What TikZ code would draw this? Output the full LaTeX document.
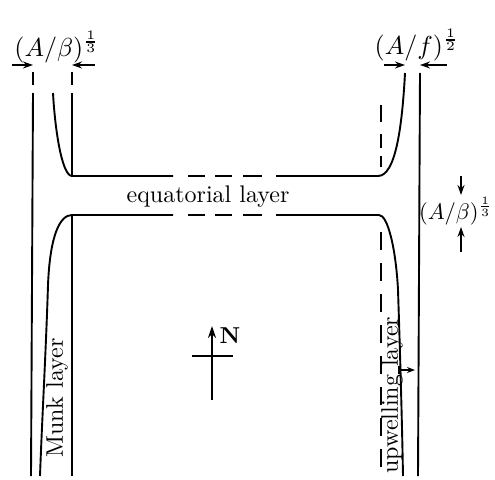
\documentclass[tikz,border=0pt]{standalone}
\usetikzlibrary{arrows.meta}
\newcommand{\bigtxt}[1]{\scalebox{2.4}{#1}}
\newcommand{\bigmath}[1]{\scalebox{2.6}{#1}}
\begin{document}
\begin{tikzpicture}[x=1pt,y=-1pt,
  wall/.style={line width=1.9pt},
  thin dash/.style={line width=1.9pt},
  dim/.style={line width=1.6pt,-{Stealth[length=10pt,width=7pt]}},
  lbl/.style={inner sep=0pt},
]
\useasboundingbox (0,0) rectangle (495,479);

% --- left outer wall
\draw[wall] (33,72) -- (33,85);
\draw[wall] (33,93) -- (31,476);
% --- left inner
\draw[wall] (72,72) -- (72,85);
\draw[wall] (72,93) -- (72,176);
\draw[wall] (72,215) -- (72,476);

% --- top boundary
\draw[wall] (53,93) .. controls (55,130) and (62,176) .. (72,176) -- (173,176);
\draw[wall] (188,176) -- (205,176);
\draw[wall] (215,176) -- (232,176);
\draw[wall] (243,176) -- (262,176);
\draw[wall] (276,176) -- (378,176) .. controls (395,176) and (402,130) .. (405,73);

% --- bottom boundary
\draw[wall] (40,476) .. controls (42,420) and (46,350) .. (48,285)
   .. controls (50,235) and (60,215) .. (72,215) -- (173,215);
\draw[wall] (188,215) -- (205,215);
\draw[wall] (215,215) -- (232,215);
\draw[wall] (243,215) -- (262,215);
\draw[wall] (276,215) -- (379,215) .. controls (388,215) and (396,250) .. (398,290)
   .. controls (400,350) and (402,420) .. (403,476);

% --- right outer wall
\draw[wall] (420,73) -- (418,476);

% --- right dashed line
\draw[thin dash] (381,105) -- (381,122);
\draw[thin dash] (381,134) -- (381,148);
\draw[thin dash] (381,156) -- (381,167);
\draw[thin dash, dash pattern=on 18pt off 13pt] (381,232) -- (381,476);

% --- top-left dimension
\coordinate (tl1) at (12,65);  \coordinate (tl2) at (33,65);
\coordinate (tl3) at (95,65);  \coordinate (tl4) at (72,65);
\draw[dim] (tl1) -- (tl2);
\draw[dim] (tl3) -- (tl4);
\node[lbl, anchor=base] (labTL) at (57,56) {\bigmath{$(A/\beta)^{\frac{1}{3}}$}};

% --- top-right dimension
\coordinate (tr1) at (384,65);  \coordinate (tr2) at (405,65);
\coordinate (tr3) at (447,65);  \coordinate (tr4) at (420,65);
\draw[dim] (tr1) -- (tr2);
\draw[dim] (tr3) -- (tr4);
\node[lbl, anchor=base] (labTR) at (417,54) {\bigmath{$(A/f)^{\frac{1}{2}}$}};

% --- right vertical dimension
\coordinate (rv1) at (461,176);  \coordinate (rv2) at (461,195);
\coordinate (rv3) at (461,252);  \coordinate (rv4) at (461,227);
\draw[dim] (rv1) -- (rv2);
\draw[dim] (rv3) -- (rv4);
\node[lbl, anchor=base east] (labR) at (493,219) {\scalebox{2.25}{$(A/\beta)^{\frac{1}{3}}$}};

% --- layer labels
\node[lbl, anchor=base] (eq) at (208,202) {\bigtxt{equatorial layer}};
\node[lbl, rotate=90] (munk) at (57,398) {\bigtxt{Munk layer}};
\node[lbl, rotate=90] (upw) at (392,395) {\bigtxt{upwelling layer}};

% --- small flow arrow at upwelling layer
\coordinate (ua1) at (398,370); \coordinate (ua2) at (415,370);
\draw[line width=1.5pt, {Bar[width=8pt]}-{Stealth[length=8pt,width=6pt]}] (ua1) -- (ua2);

% --- compass
\coordinate (cS) at (212,400); \coordinate (cN) at (212,326);
\coordinate (cW) at (192,356); \coordinate (cE) at (233,356);
\draw[line width=1.8pt, -{Stealth[length=12pt,width=8pt]}] (cS) -- (cN);
\draw[line width=1.8pt] (cW) -- (cE);
\node[inner sep=0pt] (nlab) at (230,336) {\scalebox{2.3}{\bfseries N}};
\end{tikzpicture}
\end{document}
